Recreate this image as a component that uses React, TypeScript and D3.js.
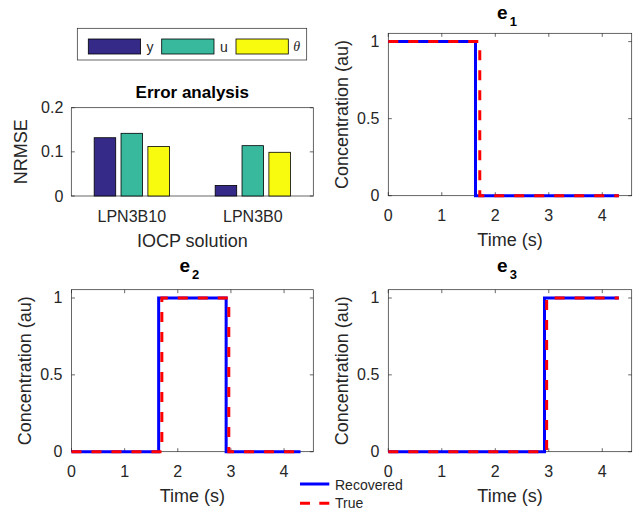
import React from "react";
import * as d3 from "d3";

// ---------- data ----------
const categories = ["LPN3B10", "LPN3B0"];
const barSeries = ["y", "u", "θ"];
const errY = [0.132, 0.024];
const errU = [0.142, 0.114];
const errTheta = [0.112, 0.099];
const barColors = ["#352a87", "#38b99e", "#f9fb0e"];
const barYTicks = [0, 0.1, 0.2];

const timeTicks = [0, 1, 2, 3, 4];
const concTicks = [0, 0.5, 1];
const concTickLabels = ["0", "0.5", "1"];

// e1
const e1RecT = [0, 1.63, 1.63, 4.31];
const e1RecV = [1, 1, 0, 0];
const e1TrueT = [0, 1.71, 1.71, 4.31];
const e1TrueV = [1, 1, 0, 0];
// e2
const e2RecT = [0, 1.64, 1.64, 2.91, 2.91, 4.31];
const e2RecV = [0, 0, 1, 1, 0, 0];
const e2TrueT = [0, 1.7, 1.7, 2.96, 2.96, 4.31];
const e2TrueV = [0, 0, 1, 1, 0, 0];
// e3
const e3RecT = [0, 2.92, 2.92, 4.31];
const e3RecV = [0, 0, 1, 1];
const e3TrueT = [0, 2.96, 2.96, 4.31];
const e3TrueV = [0, 0, 1, 1];

const FONT = "'Liberation Sans', Arial, Helvetica, sans-serif";
const AX = "#262626";
const BLUE = "#0000ff";
const RED = "#ff0000";

function LinePanel(props: any) {
  const { left, right, top, bottom, sub, titleY, recT, recV, trueT, trueV } = props;
  const x = d3.scaleLinear().domain([0, 4.55]).range([left, right]);
  const y = d3.scaleLinear().domain([0, 1.054]).range([bottom, top]);
  const line = d3
    .line<[number, number]>()
    .x((d) => x(d[0]))
    .y((d) => y(d[1]));
  const rec = line(recT.map((t: number, i: number) => [t, recV[i]]));
  const tru = line(trueT.map((t: number, i: number) => [t, trueV[i]]));
  const tl = 3.5;
  const cx = (left + right) / 2;
  const cy = (top + bottom) / 2;
  return (
    <g fontFamily={FONT} fill={AX}>
      <rect x={left} y={top} width={right - left} height={bottom - top} fill="white" stroke={AX} strokeWidth={0.7} />
      {timeTicks.map((t) => (
        <g key={"xt" + t}>
          <line x1={x(t)} x2={x(t)} y1={bottom} y2={bottom - tl} stroke={AX} strokeWidth={0.7} />
          <line x1={x(t)} x2={x(t)} y1={top} y2={top + tl} stroke={AX} strokeWidth={0.7} />
          <text x={x(t)} y={bottom + 25.5} textAnchor="middle" fontSize={16}>
            {t}
          </text>
        </g>
      ))}
      {concTicks.map((v, i) => (
        <g key={"yt" + v}>
          <line x1={left} x2={left + tl} y1={y(v)} y2={y(v)} stroke={AX} strokeWidth={0.7} />
          <line x1={right} x2={right - tl} y1={y(v)} y2={y(v)} stroke={AX} strokeWidth={0.7} />
          <text x={left - 9} y={y(v)} textAnchor="end" dominantBaseline="central" fontSize={16}>
            {concTickLabels[i]}
          </text>
        </g>
      ))}
      <path d={rec || ""} fill="none" stroke={BLUE} strokeWidth={3} />
      <path d={tru || ""} fill="none" stroke={RED} strokeWidth={3} strokeDasharray="10,10" />
      <text x={cx} y={bottom + 50} textAnchor="middle" fontSize={18}>
        Time (s)
      </text>
      <text
        transform={`translate(${left - 46.5},${cy}) rotate(-90)`}
        textAnchor="middle"
        dominantBaseline="central"
        fontSize={18}
      >
        Concentration (au)
      </text>
      <text x={cx - 3} y={titleY} textAnchor="middle" fontSize={19} fontWeight="bold" fill="#000">
        <tspan>e</tspan>
        <tspan dx={2} dy={7.5} fontSize={13}>
          {sub}
        </tspan>
      </text>
    </g>
  );
}

function BarPanel() {
  const left = 71.3;
  const right = 313.3;
  const top = 107.7;
  const bottom = 196;
  const x = d3.scaleLinear().domain([0.5, 2.5]).range([left, right]);
  const y = d3.scaleLinear().domain([0, 0.2]).range([bottom, top]);
  const seriesVals = [errY, errU, errTheta];
  const offsets = [-0.222, 0, 0.222];
  const bw = 0.178;
  const tl = 3.5;
  return (
    <g fontFamily={FONT} fill={AX}>
      <rect x={left} y={top} width={right - left} height={bottom - top} fill="white" stroke={AX} strokeWidth={0.7} />
      {barYTicks.map((v) => (
        <g key={"by" + v}>
          <line x1={left} x2={left + tl} y1={y(v)} y2={y(v)} stroke={AX} strokeWidth={0.7} />
          <line x1={right} x2={right - tl} y1={y(v)} y2={y(v)} stroke={AX} strokeWidth={0.7} />
          <text x={left - 8} y={y(v)} textAnchor="end" dominantBaseline="central" fontSize={16}>
            {String(v)}
          </text>
        </g>
      ))}
      {seriesVals.map((vals, s) =>
        vals.map((v, c) => (
          <rect
            key={"b" + s + c}
            x={x(c + 1 + offsets[s] - bw / 2)}
            y={y(v)}
            width={x(c + 1 + offsets[s] + bw / 2) - x(c + 1 + offsets[s] - bw / 2)}
            height={y(0) - y(v)}
            fill={barColors[s]}
            stroke="#000"
            strokeWidth={0.8}
          />
        ))
      )}
      {categories.map((c, i) => (
        <text key={c} x={x(i + 1)} y={bottom + 25.7} textAnchor="middle" fontSize={16}>
          {c}
        </text>
      ))}
      <text x={(left + right) / 2} y={bottom + 50.5} textAnchor="middle" fontSize={18}>
        IOCP solution
      </text>
      <text
        transform={`translate(${left - 50},${(top + bottom) / 2}) rotate(-90)`}
        textAnchor="middle"
        dominantBaseline="central"
        fontSize={18}
      >
        NRMSE
      </text>
      <text x={(left + right) / 2} y={98.3} textAnchor="middle" fontSize={17} fontWeight="bold" fill="#000">
        Error analysis
      </text>
    </g>
  );
}

function BarLegend() {
  const swX = [88.3, 161.7, 236];
  const swW = 52.3;
  return (
    <g fontFamily={FONT} fill={AX}>
      <rect x={77.3} y={28.3} width={229.4} height={31.7} fill="white" stroke={AX} strokeWidth={0.7} />
      {barSeries.map((s, i) => (
        <g key={s}>
          <rect x={swX[i]} y={39} width={swW} height={15} fill={barColors[i]} stroke="#000" strokeWidth={0.8} />
          {i < 2 ? (
            <text x={swX[i] + swW + 6} y={46.5} dominantBaseline="central" fontSize={14}>
              {s}
            </text>
          ) : (
            <text
              x={swX[i] + swW + 5}
              y={46.5}
              dominantBaseline="central"
              fontSize={14}
              fontStyle="italic"
              fontFamily="'Liberation Serif', 'DejaVu Serif', serif"
            >
              {s}
            </text>
          )}
        </g>
      ))}
    </g>
  );
}

function LineLegend() {
  return (
    <g fontFamily={FONT} fill={AX}>
      <line x1={300} x2={329.3} y1={484} y2={484} stroke={BLUE} strokeWidth={3} />
      <text x={335} y={485} dominantBaseline="central" fontSize={14}>
        Recovered
      </text>
      <line x1={300} x2={329.3} y1={503.3} y2={503.3} stroke={RED} strokeWidth={3} strokeDasharray="10,9.3" />
      <text x={335} y={503.3} dominantBaseline="central" fontSize={14}>
        True
      </text>
    </g>
  );
}

export default function App() {
  return (
    <svg
      width={634}
      height={510}
      style={{ position: "absolute", left: 0, top: 0, background: "white" }}
    >
      <rect x={0} y={0} width={634} height={510} fill="white" />
      <BarPanel />
      <BarLegend />
      <LinePanel
        left={388.3}
        right={631.7}
        top={33.3}
        bottom={195.7}
        sub="1"
        titleY={18.5}
        recT={e1RecT}
        recV={e1RecV}
        trueT={e1TrueT}
        trueV={e1TrueV}
      />
      <LinePanel
        left={71.5}
        right={313.3}
        top={289.7}
        bottom={451.7}
        sub="2"
        titleY={271.7}
        recT={e2RecT}
        recV={e2RecV}
        trueT={e2TrueT}
        trueV={e2TrueV}
      />
      <LinePanel
        left={388.3}
        right={631.7}
        top={289.7}
        bottom={451.7}
        sub="3"
        titleY={271.7}
        recT={e3RecT}
        recV={e3RecV}
        trueT={e3TrueT}
        trueV={e3TrueV}
      />
      <LineLegend />
    </svg>
  );
}
